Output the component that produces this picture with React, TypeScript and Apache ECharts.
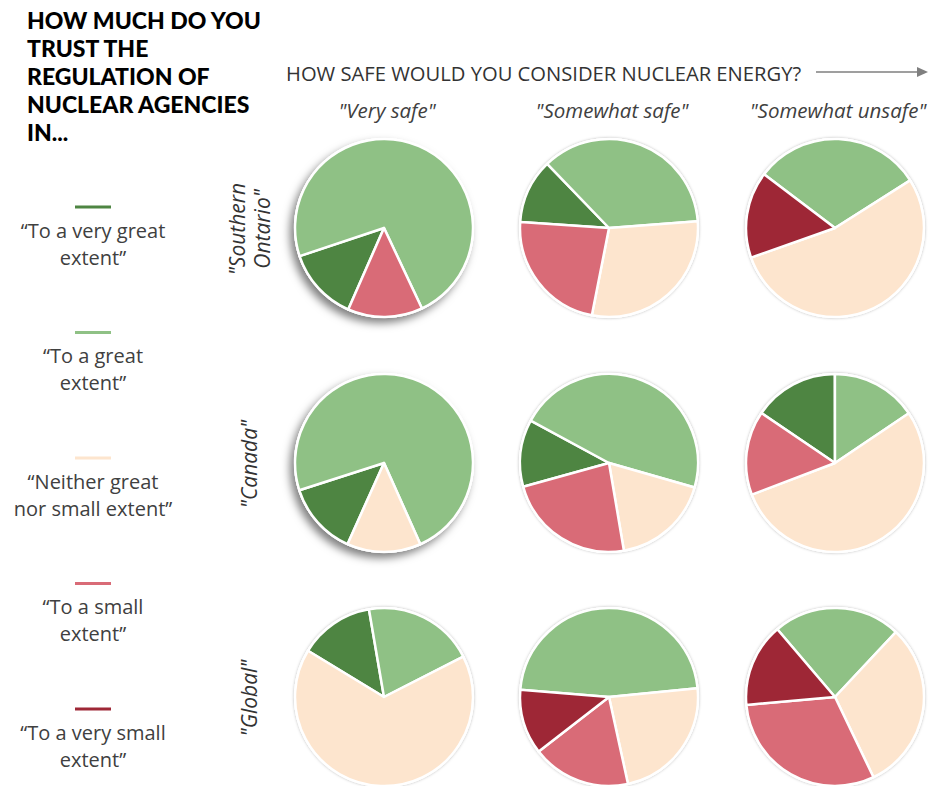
import React, { useEffect, useRef } from "react";
import * as echarts from "echarts";

// Trust categories (legend), in series order
const categories = [
  "“To a very great\nextent”",
  "“To a great\nextent”",
  "“Neither great\nnor small extent”",
  "“To a small\nextent”",
  "“To a very small\nextent”",
];
const categoryColors = ["#4E8542", "#8FC185", "#FDE5CE", "#D96B77", "#9E2736"];

// Columns: perceived safety; rows: region
const columnLabels = ['"Very safe"', '"Somewhat safe"', '"Somewhat unsafe"'];
const rowLabels = ['"Southern\nOntario"', '"Canada"', '"Global"'];

// Shares (%) per pie, order = categories
const southernOntario = [
  [13.3, 73.1, 0, 13.6, 0],
  [11.7, 36.0, 29.3, 23.0, 0],
  [0, 30.7, 53.6, 0, 15.7],
];
const canada = [
  [13.3, 73.2, 13.4, 0, 0],
  [12.2, 46.6, 17.9, 23.4, 0],
  [15.5, 15.6, 53.7, 15.3, 0],
];
const global = [
  [13.6, 20.2, 66.2, 0, 0],
  [0, 47.1, 23.1, 17.9, 11.8],
  [0, 23.2, 30.9, 30.7, 15.2],
];
// Angle of first slice (degrees clockwise from 12 o'clock)
const firstSliceAngles = [
  [203.7, 273.9, 307.1],
  [204.2, 254.5, 304.2],
  [301.3, 274.7, 319.6],
];

const rowsData = [southernOntario, canada, global];

export default function App() {
  const ref = useRef<HTMLDivElement>(null);
  useEffect(() => {
    if (!ref.current) return;
    const chart = echarts.init(ref.current, undefined, { renderer: "svg" });
    const colX = [384, 609, 835];
    const rowY = [228, 463, 697];
    const R = 89;
    const series: any[] = [];
    rowsData.forEach((row, r) => {
      row.forEach((vals, c) => {
        const dropShadow = c === 0 && r < 2;
        // background disc carrying the shadow
        series.push({
          type: "pie",
          silent: true,
          center: [colX[c], rowY[r]],
          radius: R + 1,
          label: { show: false },
          labelLine: { show: false },
          data: [{ value: 1, name: "bg" }],
          itemStyle: dropShadow
            ? {
                color: "#ffffff",
                shadowBlur: 9,
                shadowOffsetX: -4,
                shadowOffsetY: 5,
                shadowColor: "rgba(0,0,0,0.5)",
              }
            : {
                color: "#ffffff",
                shadowBlur: 3,
                shadowColor: "rgba(0,0,0,0.3)",
              },
          emphasis: { disabled: true },
          z: 1,
        });
        const start = (((90 - firstSliceAngles[r][c]) % 360) + 360) % 360;
        series.push({
          type: "pie",
          center: [colX[c], rowY[r]],
          radius: R,
          startAngle: start,
          clockwise: true,
          label: { show: false },
          labelLine: { show: false },
          itemStyle: { borderColor: "#ffffff", borderWidth: 2.5 },
          emphasis: { disabled: true },
          data: vals
            .map((v, i) => ({
              value: v,
              name: categories[i].replace("\n", " "),
              itemStyle: { color: categoryColors[i] },
            }))
            .filter((d) => d.value > 0),
          z: 2,
        });
      });
    });

    const graphic: any[] = [
      {
        type: "text",
        left: 27,
        top: 6,
        style: {
          text: "HOW MUCH DO YOU\nTRUST THE\nREGULATION OF\nNUCLEAR AGENCIES\nIN...",
          font: "900 23px Lato",
          lineHeight: 28,
          fill: "#000000",
        },
      },
      {
        type: "text",
        x: 286,
        y: 73,
        style: {
          text: "HOW SAFE WOULD YOU CONSIDER NUCLEAR ENERGY?",
          font: "20.2px 'Open Sans'",
          fill: "#333333",
          verticalAlign: "middle",
        },
      },
      {
        type: "line",
        shape: { x1: 816, y1: 72, x2: 920, y2: 72 },
        style: { stroke: "#7f7f7f", lineWidth: 1.5 },
      },
      {
        type: "polygon",
        shape: { points: [[917, 67], [928, 72], [917, 77]] },
        style: { fill: "#7f7f7f" },
      },
    ];
    columnLabels.forEach((t, c) => {
      graphic.push({
        type: "text",
        x: colX[c] + 3,
        y: 110,
        style: {
          text: t,
          font: "italic 20.5px 'Open Sans'",
          fill: "#404040",
          align: "center",
          verticalAlign: "middle",
        },
      });
    });
    rowLabels.forEach((t, r) => {
      graphic.push({
        type: "text",
        x: 249,
        y: rowY[r] + 1,
        rotation: Math.PI / 2,
        style: {
          text: t,
          font: "italic 21px 'Open Sans'",
          fill: "#333333",
          align: "center",
          verticalAlign: "middle",
          lineHeight: 25,
        },
      });
    });
    categories.forEach((t, i) => {
      const y0 = 207 + i * 125.5;
      graphic.push({
        type: "line",
        shape: { x1: 75, y1: y0, x2: 111, y2: y0 },
        style: { stroke: categoryColors[i], lineWidth: 3 },
      });
      graphic.push({
        type: "text",
        x: 93,
        y: y0 + 9.5,
        style: {
          text: t,
          font: "20px 'Open Sans'",
          fill: "#404040",
          align: "center",
          verticalAlign: "top",
          lineHeight: 27,
        },
      });
    });

    chart.setOption({
      animation: false,
      backgroundColor: "#ffffff",
      series,
      graphic,
    });
    return () => chart.dispose();
  }, []);
  return (
    <div
      ref={ref}
      style={{ position: "fixed", left: 0, top: 0, width: 933, height: 786 }}
    />
  );
}
